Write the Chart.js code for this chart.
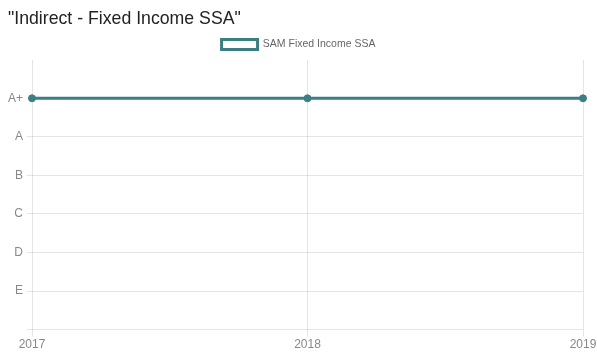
<!DOCTYPE html>
<html>
<head>
<meta charset="utf-8">
<script src="https://cdn.jsdelivr.net/npm/chart.js@4/dist/chart.umd.min.js"></script>
<style>
  html, body { margin: 0; padding: 0; background: #fff; }
  #wrap { width: 597px; height: 353px; position: relative; }
</style>
</head>
<body>
<div id="wrap"><canvas id="chart"></canvas></div>
<script>
// Years on the x axis
const years = ['2017', '2018', '2019'];
// Rating scale, lowest first; index = position on the y axis
const ratingScale = ['', 'E', 'D', 'C', 'B', 'A', 'A+', ''];
// Rating of the fund for each year
const samRatings = ['A+', 'A+', 'A+'];
const seriesName = 'SAM Fixed Income SSA';
const chartTitle = '"Indirect - Fixed Income SSA"';

const teal = '#3b7e83';
const gridColor = 'rgba(0,0,0,0.1)';
const tickColor = '#888';
const font = { family: '"Liberation Sans", Arial, sans-serif', size: 12 };

new Chart(document.getElementById('chart'), {
  type: 'line',
  data: {
    labels: years,
    datasets: [{
      label: seriesName,
      data: samRatings.map(r => ratingScale.indexOf(r)),
      borderColor: teal,
      backgroundColor: '#fff',
      borderWidth: 3,
      pointBackgroundColor: teal,
      pointBorderColor: teal,
      pointRadius: 3.5,
      pointBorderWidth: 1,
      tension: 0,
      fill: false
    }]
  },
  options: {
    responsive: true,
    maintainAspectRatio: false,
    animation: false,
    layout: { padding: { left: 8, right: 8, top: 4, bottom: 0 } },
    plugins: {
      title: {
        display: true,
        text: chartTitle,
        align: 'start',
        color: '#222',
        font: { family: font.family, size: 17.7, weight: 'normal' },
        padding: { top: 4, bottom: 3 }
      },
      legend: {
        display: true,
        labels: {
          color: '#666',
          font: { family: font.family, size: 10.5 },
          boxWidth: 36,
          boxHeight: 10,
          padding: 7
        }
      },
      tooltip: { enabled: false }
    },
    scales: {
      x: {
        type: 'category',
        offset: false,
        border: { display: false },
        afterFit: scale => { scale.paddingRight = 14; },
        grid: { color: gridColor, drawTicks: true, tickLength: 7 },
        ticks: { color: tickColor, font: font, padding: 1, maxRotation: 0 }
      },
      y: {
        type: 'linear',
        min: 0,
        max: ratingScale.length - 1,
        border: { display: false },
        afterFit: scale => { scale.width = 24; },
        grid: {
          color: ctx => (ctx.tick && ctx.tick.value === ratingScale.length - 1) ? 'rgba(0,0,0,0)' : gridColor,
          tickLength: 5
        },
        ticks: {
          stepSize: 1,
          color: tickColor,
          font: font,
          padding: 4,
          callback: v => ratingScale[v] !== undefined ? ratingScale[v] : ''
        }
      }
    }
  }
});
</script>
</body>
</html>
